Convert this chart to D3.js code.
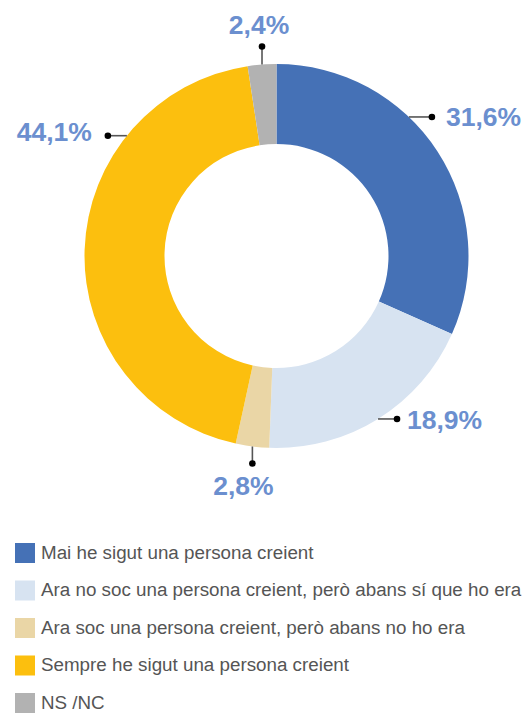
<!DOCTYPE html>
<html><head><meta charset="utf-8">
<script src="https://cdn.jsdelivr.net/npm/d3@7"></script>
<style>html,body{margin:0;padding:0;background:#fff;}svg{display:block;}</style>
</head><body>
<svg id="c" width="529" height="713"></svg>
<script>
const categories = [
  "Mai he sigut una persona creient",
  "Ara no soc una persona creient, però abans sí que ho era",
  "Ara soc una persona creient, però abans no ho era",
  "Sempre he sigut una persona creient",
  "NS /NC"
];
const values = [31.6, 18.9, 2.8, 44.1, 2.4];
const valueLabels = ["31,6%", "18,9%", "2,8%", "44,1%", "2,4%"];
const colors = ["#4571b6", "#d7e3f1", "#ead6a6", "#fcbf0e", "#b2b2b2"];

// leader layout: angle on arc (deg, null = slice middle), direction, length, text offset
const leaders = [
  {ang: 43.6, dir: "h", len: 23, tx: 14, ty: 9, anchor: "start"},
  {ang: null, dir: "h", len: 19, tx: 10, ty: 10, anchor: "start"},
  {ang: null, dir: "v", len: 17, tx: -9, ty: 32, anchor: "middle"},
  {ang: 308.8, dir: "h", len: -19, tx: -16, ty: 5, anchor: "end"},
  {ang: null, dir: "v", len: -18, tx: -3, ty: -13, anchor: "middle"}
];

const svg = d3.select("#c");
const cx = 276.5, cy = 256, R = 192, r = 112;
const g = svg.append("g").attr("transform", `translate(${cx},${cy})`);

const pie = d3.pie().sort(null).value(d => d);
const arcs = pie(values);
const arc = d3.arc().innerRadius(r).outerRadius(R);

g.selectAll("path.slice").data(arcs).join("path")
  .attr("class", "slice")
  .attr("d", arc)
  .attr("fill", (d, i) => colors[i]);

arcs.forEach((d, i) => {
  const L = leaders[i];
  const a = L.ang === null ? (d.startAngle + d.endAngle) / 2 : L.ang * Math.PI / 180;
  const x0 = R * Math.sin(a), y0 = -R * Math.cos(a);
  const x1 = L.dir === "h" ? x0 + L.len : x0;
  const y1 = L.dir === "v" ? y0 + L.len : y0;
  g.append("line").attr("x1", x0).attr("y1", y0).attr("x2", x1).attr("y2", y1)
    .attr("stroke", "#555").attr("stroke-width", 1.6);
  g.append("circle").attr("cx", x1).attr("cy", y1).attr("r", 3.3).attr("fill", "#000");
  g.append("text").attr("x", x1 + L.tx).attr("y", y1 + L.ty)
    .attr("text-anchor", L.anchor)
    .attr("font-family", "'Liberation Sans', Arial, sans-serif")
    .attr("font-weight", "bold").attr("font-size", 26.5)
    .attr("fill", "#6b8fcf")
    .text(valueLabels[i]);
});

const legend = svg.append("g").attr("transform", "translate(15,543)");
const rows = legend.selectAll("g").data(categories).join("g")
  .attr("transform", (d, i) => `translate(0,${i * 37.5})`);
rows.append("rect").attr("width", 20).attr("height", 20).attr("fill", (d, i) => colors[i]);
rows.append("text").attr("x", 26).attr("y", 15.5)
  .attr("font-family", "'Liberation Sans', Arial, sans-serif")
  .attr("font-size", 18.8).attr("fill", "#555")
  .text(d => d);
</script>
</body></html>
